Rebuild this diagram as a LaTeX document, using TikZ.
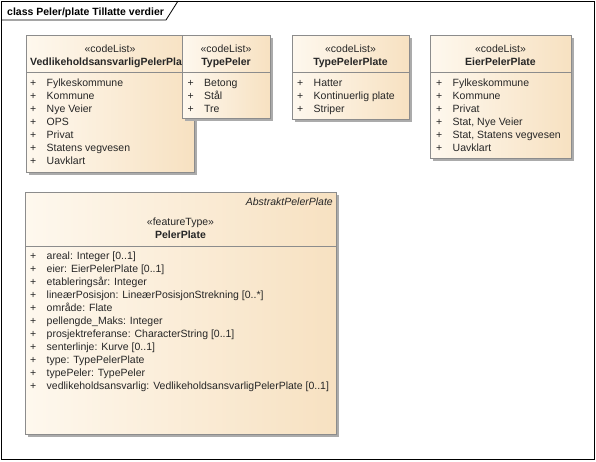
\documentclass[tikz,border=0pt]{standalone}
\usepackage{fontspec}
\setmainfont{Liberation Sans}
\colorlet{colorLine}{black!45}
\colorlet{colorText}{black!85}
\colorlet{colorShadow}{black!33}
\definecolor{colorFillL}{RGB}{254,248,238}
\definecolor{colorFillR}{RGB}{247,225,193}
\usetikzlibrary{positioning}
\usetikzlibrary{shadows}
\tikzset{
   every node/.style={font=\fontsize{10.5}{12}\selectfont,inner sep=0pt,text=colorText},
   cls/.style={draw=colorLine,line width=0.8pt,left color=colorFillL,right color=colorFillR,anchor=north west,
      general shadow={fill=colorShadow,shadow xshift=3pt,shadow yshift=-3pt}},
   divider/.style={draw=colorLine,line width=0.8pt},
   stereo/.style={anchor=base},
   clsname/.style={anchor=base,font=\fontsize{10.5}{12}\selectfont\bfseries},
   attr/.style={anchor=base west},
   frame/.style={draw=black,line width=0.8pt},
}
\newcommand{\lItem}[1]{\makebox[16.5pt][l]{+}#1}

\begin{document}
\begin{tikzpicture}[x=1pt,y=-1pt]
        \useasboundingbox (0,0) rectangle (596,461);
        \draw[frame] (1,1) rectangle (594,459);
        \draw[frame] (1,20) -- (166,20) -- (178,1);
        \node[anchor=base west,font=\fontsize{10.5}{12}\selectfont\bfseries,text=black] (title) at (7,15) {class Peler/plate Tillatte verdier};

        % VedlikeholdsansvarligPelerPlate
        \node[cls,minimum width=168pt,minimum height=137pt] (vedl) at (26,35) {};
        \draw[divider] (vedl.west |- 0,72) -- (vedl.east |- 0,72);
        \node[stereo] (vedlSt) at (110,52) {«codeList»};
        \node[clsname,anchor=base west] (vedlName) at (30,65) {VedlikeholdsansvarligPelerPlate};
        \node[attr] (vedl1) at (30, 86.3) {\lItem{Fylkeskommune}};
        \node[attr] (vedl2) at (30, 99.3) {\lItem{Kommune}};
        \node[attr] (vedl3) at (30,112.3) {\lItem{Nye Veier}};
        \node[attr] (vedl4) at (30,125.3) {\lItem{OPS}};
        \node[attr] (vedl5) at (30,138.3) {\lItem{Privat}};
        \node[attr] (vedl6) at (30,151.3) {\lItem{Statens vegvesen}};
        \node[attr] (vedl7) at (30,164.3) {\lItem{Uavklart}};

        % TypePeler
        \node[cls,minimum width=88pt,minimum height=83pt] (typeP) at (182,35) {};
        \draw[divider] (typeP.west |- 0,72) -- (typeP.east |- 0,72);
        \node[stereo] (typePSt) at (226,52) {«codeList»};
        \node[clsname] (typePName) at (226,65) {TypePeler};
        \node[attr] (typeP1) at (187.5, 86.3) {\lItem{Betong}};
        \node[attr] (typeP2) at (187.5, 99.3) {\lItem{Stål}};
        \node[attr] (typeP3) at (187.5,112.3) {\lItem{Tre}};

        % TypePelerPlate
        \node[cls,minimum width=117pt,minimum height=84pt] (typePP) at (292,35) {};
        \draw[divider] (typePP.west |- 0,72) -- (typePP.east |- 0,72);
        \node[stereo] (typePPSt) at (350.5,52) {«codeList»};
        \node[clsname] (typePPName) at (350.5,65) {TypePelerPlate};
        \node[attr] (typePP1) at (297, 86.3) {\lItem{Hatter}};
        \node[attr] (typePP2) at (297, 99.3) {\lItem{Kontinuerlig plate}};
        \node[attr] (typePP3) at (297,112.3) {\lItem{Striper}};

        % EierPelerPlate
        \node[cls,minimum width=141pt,minimum height=123pt] (eier) at (430,35) {};
        \draw[divider] (eier.west |- 0,72) -- (eier.east |- 0,72);
        \node[stereo] (eierSt) at (500.5,52) {«codeList»};
        \node[clsname] (eierName) at (500.5,65) {EierPelerPlate};
        \node[attr] (eier1) at (436, 86.3) {\lItem{Fylkeskommune}};
        \node[attr] (eier2) at (436, 99.3) {\lItem{Kommune}};
        \node[attr] (eier3) at (436,112.3) {\lItem{Privat}};
        \node[attr] (eier4) at (436,125.3) {\lItem{Stat, Nye Veier}};
        \node[attr] (eier5) at (436,138.3) {\lItem{Stat, Statens vegvesen}};
        \node[attr] (eier6) at (436,151.3) {\lItem{Uavklart}};

        % PelerPlate
        \node[cls,minimum width=311pt,minimum height=242pt] (peler) at (25,192) {};
        \draw[divider] (peler.west |- 0,246) -- (peler.east |- 0,246);
        \node[anchor=base east,font=\fontsize{10.5}{12}\selectfont\itshape] (pelerAbs) at (333,205.5) {AbstraktPelerPlate};
        \node[stereo] (pelerSt) at (180.5,225.5) {«featureType»};
        \node[clsname] (pelerName) at (180.5,238) {PelerPlate};
        \node[attr] (peler1)  at (30,259.8) {\lItem{areal: Integer [0..1]}};
        \node[attr] (peler2)  at (30,272.8) {\lItem{eier: EierPelerPlate [0..1]}};
        \node[attr] (peler3)  at (30,285.8) {\lItem{etableringsår: Integer}};
        \node[attr] (peler4)  at (30,298.8) {\lItem{lineærPosisjon: LineærPosisjonStrekning [0..*]}};
        \node[attr] (peler5)  at (30,311.8) {\lItem{område: Flate}};
        \node[attr] (peler6)  at (30,324.8) {\lItem{pellengde\_Maks: Integer}};
        \node[attr] (peler7)  at (30,337.8) {\lItem{prosjektreferanse: CharacterString [0..1]}};
        \node[attr] (peler8)  at (30,350.8) {\lItem{senterlinje: Kurve [0..1]}};
        \node[attr] (peler9)  at (30,363.8) {\lItem{type: TypePelerPlate}};
        \node[attr] (peler10) at (30,376.8) {\lItem{typePeler: TypePeler}};
        \node[attr] (peler11) at (30,389.8) {\lItem{vedlikeholdsansvarlig: VedlikeholdsansvarligPelerPlate [0..1]}};
\end{tikzpicture}
\end{document}
